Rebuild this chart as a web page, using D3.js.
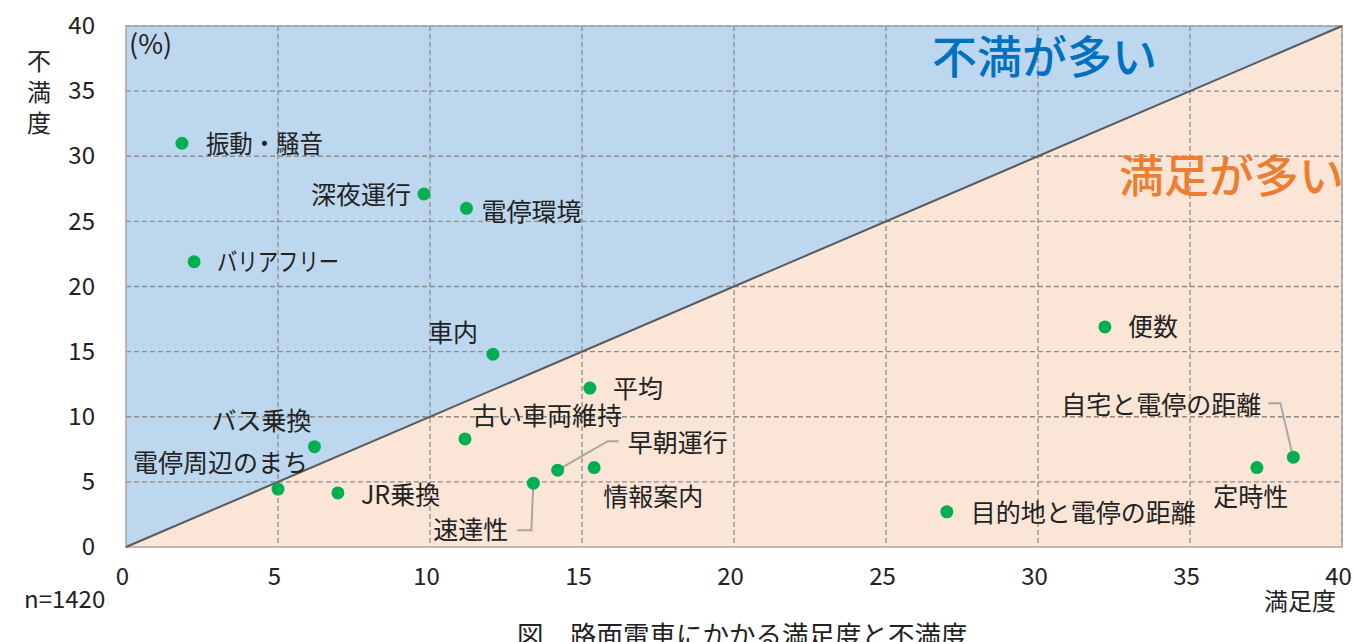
<!DOCTYPE html>
<html>
<head>
<meta charset="utf-8">
<script src="https://cdn.jsdelivr.net/npm/d3@7"></script>
<style>
  body { margin: 0; background: #fff; }
  text { font-family: "Noto Sans CJK JP", "Noto Sans", sans-serif; fill: #222; }
</style>
</head>
<body>
<div id="chart"></div>
<script>
// 路面電車にかかる満足度と不満度 (scatter, satisfaction vs dissatisfaction)

// ---- data ----
const items = ["振動・騒音", "深夜運行", "電停環境", "バリアフリー", "車内", "平均", "便数",
    "古い車両維持", "バス乗換", "電停周辺のまち", "JR乗換", "早朝運行", "情報案内", "速達性",
    "目的地と電停の距離", "定時性", "自宅と電停の距離"];
const satisfaction = [1.84, 9.8, 11.2, 2.24, 12.07, 15.26, 32.2,
    11.15, 6.2, 5.0, 6.97, 14.2, 15.4, 13.4,
    27.0, 37.2, 38.4];
const dissatisfaction = [31.0, 27.1, 26.0, 21.9, 14.8, 12.2, 16.9,
    8.3, 7.7, 4.45, 4.15, 5.9, 6.1, 4.9,
    2.7, 6.1, 6.9];
const xTicks = [0, 5, 10, 15, 20, 25, 30, 35, 40];
const yTicks = [0, 5, 10, 15, 20, 25, 30, 35, 40];
const yTitle = ["不", "満", "度"];
const sampleText = "n=1420";
const captionText = "図　路面電車にかかる満足度と不満度";

// ---- label layout (pixel offsets from the dot) ----
const labelLayout = {
    "振動・騒音":       {dx: 24, dy: 1, anchor: "start", len: 117},
    "深夜運行":         {dx: -13, dy: 1, anchor: "end"},
    "電停環境":         {dx: 15, dy: 4, anchor: "start"},
    "バリアフリー":     {dx: 23, dy: 0, anchor: "start", len: 122},
    "車内":             {dx: -15, dy: -21, anchor: "end"},
    "平均":             {dx: 23, dy: 1, anchor: "start"},
    "便数":             {dx: 23, dy: 0, anchor: "start"},
    "古い車両維持":     {dx: 7, dy: -23, anchor: "start"},
    "バス乗換":         {dx: -3, dy: -25, anchor: "end"},
    "電停周辺のまち":   {dx: 30, dy: -26, anchor: "end"},
    "JR乗換":           {dx: 23, dy: 2, anchor: "start"},
    "早朝運行":         {dx: 70, dy: -27, anchor: "start"},
    "情報案内":         {dx: 9, dy: 30, anchor: "start"},
    "速達性":           {dx: -25, dy: 47, anchor: "end"},
    "目的地と電停の距離": {dx: 24, dy: 1, anchor: "start"},
    "定時性":           {dx: -6, dy: 30, anchor: "middle"},
    "自宅と電停の距離": {dx: -32, dy: -52, anchor: "end"}
};
// leader lines (offsets from the dot)
const leaders = {
    "早朝運行": [[0, 0], [50, -29], [61, -29]],
    "速達性": [[0, 0], [-2, 47], [-16, 47]],
    "自宅と電停の距離": [[-1, -3], [-13, -54], [-25, -54]]
};

const margin = {top: 26, right: 13, bottom: 95, left: 126},
    width = 1355 - margin.left - margin.right,
    height = 642 - margin.top - margin.bottom;

const svgRoot = d3.select("#chart")
    .append("svg")
    .attr("width", 1355)
    .attr("height", 642);

const svg = svgRoot.append("g")
    .attr("transform", `translate(${margin.left},${margin.top})`);

const x = d3.scaleLinear().domain([0, 40]).range([0, width]);
const y = d3.scaleLinear().domain([0, 40]).range([height, 0]);

// background triangles
svg.append("path")
    .attr("d", `M${x(0)},${y(0)}L${x(0)},${y(40)}L${x(40)},${y(40)}Z`)
    .attr("fill", "#bdd7ee");
svg.append("path")
    .attr("d", `M${x(0)},${y(0)}L${x(40)},${y(40)}L${x(40)},${y(0)}Z`)
    .attr("fill", "#fbe5d6");

// grid
svg.append("g")
    .selectAll("line")
    .data(xTicks.slice(1))
    .join("line")
    .attr("x1", d => x(d)).attr("x2", d => x(d))
    .attr("y1", 0).attr("y2", height)
    .attr("stroke", "#8c8c8c")
    .attr("stroke-width", 1.3)
    .attr("stroke-dasharray", "5,3");
svg.append("g")
    .selectAll("line")
    .data(yTicks.slice(1))
    .join("line")
    .attr("x1", 0).attr("x2", width)
    .attr("y1", d => y(d)).attr("y2", d => y(d))
    .attr("stroke", "#8c8c8c")
    .attr("stroke-width", 1.3)
    .attr("stroke-dasharray", "5,3");

// frame
svg.append("rect")
    .attr("x", 0).attr("y", 0)
    .attr("width", width).attr("height", height)
    .attr("fill", "none")
    .attr("stroke", "#a6a6a6")
    .attr("stroke-width", 1.5);

// diagonal
svg.append("line")
    .attr("x1", x(0)).attr("y1", y(0))
    .attr("x2", x(40)).attr("y2", y(40))
    .attr("stroke", "#595959")
    .attr("stroke-width", 2);

// axes (text only)
const xAxis = svg.append("g")
    .attr("transform", `translate(0,${height})`)
    .call(d3.axisBottom(x).tickValues(xTicks).tickSize(0).tickPadding(0));
xAxis.select(".domain").remove();
xAxis.selectAll("text")
    .attr("dx", -4)
    .attr("y", 21)
    .style("font-size", "24px")
    .style("font-family", "'Noto Sans CJK JP', sans-serif")
    .attr("fill", "#222");

const yAxis = svg.append("g")
    .call(d3.axisLeft(y).tickValues(yTicks).tickSize(0).tickPadding(0));
yAxis.select(".domain").remove();
yAxis.selectAll("text")
    .attr("x", -31)
    .style("font-size", "24px")
    .style("font-family", "'Noto Sans CJK JP', sans-serif")
    .attr("fill", "#222");

// axis titles
svgRoot.append("g")
    .selectAll("text")
    .data(yTitle)
    .join("text")
    .attr("x", 39)
    .attr("y", (d, i) => 62 + i * 31)
    .attr("dy", "0.35em")
    .attr("text-anchor", "middle")
    .style("font-size", "24px")
    .text(d => d);

svgRoot.append("text")
    .attr("x", 1336)
    .attr("y", 602)
    .attr("dy", "0.35em")
    .attr("text-anchor", "end")
    .style("font-size", "24px")
    .text("満足度");

svgRoot.append("text")
    .attr("x", 24)
    .attr("y", 600)
    .attr("dy", "0.35em")
    .style("font-size", "24px")
    .text(sampleText);

svg.append("text")
    .attr("x", 3)
    .attr("y", 19)
    .attr("dy", "0.35em")
    .style("font-size", "27px")
    .text("(%)");

// region labels
svg.append("text")
    .attr("x", 806)
    .attr("y", 32)
    .attr("dy", "0.35em")
    .style("font-size", "45px")
    .style("font-weight", "500")
    .style("fill", "#0070c0")
    .text("不満が多い");
svg.append("text")
    .attr("x", width + 2)
    .attr("y", 151)
    .attr("dy", "0.35em")
    .attr("text-anchor", "end")
    .style("font-size", "45px")
    .style("font-weight", "500")
    .style("fill", "#ed7d31")
    .text("満足が多い");

// points
const pts = items.map((name, i) => ({name: name, sx: satisfaction[i], dy: dissatisfaction[i]}));

// leader lines
svg.append("g")
    .selectAll("path")
    .data(pts.filter(d => leaders[d.name]))
    .join("path")
    .attr("d", d => d3.line()(leaders[d.name].map(p => [x(d.sx) + p[0], y(d.dy) + p[1]])))
    .attr("fill", "none")
    .attr("stroke", "#a6a6a6")
    .attr("stroke-width", 2);

svg.append("g")
    .selectAll("circle")
    .data(pts)
    .join("circle")
    .attr("cx", d => x(d.sx))
    .attr("cy", d => y(d.dy))
    .attr("r", 6.5)
    .attr("fill", "#00b050");

const labels = svg.append("g")
    .selectAll("text")
    .data(pts)
    .join("text")
    .attr("x", d => x(d.sx) + labelLayout[d.name].dx)
    .attr("y", d => y(d.dy) + labelLayout[d.name].dy)
    .attr("dy", "0.35em")
    .attr("text-anchor", d => labelLayout[d.name].anchor)
    .style("font-size", "25px")
    .text(d => d.name);
labels.filter(d => labelLayout[d.name].len)
    .attr("textLength", d => labelLayout[d.name].len)
    .attr("lengthAdjust", "spacingAndGlyphs");

// caption
svgRoot.append("text")
    .attr("x", 517)
    .attr("y", 636)
    .attr("dy", "0.35em")
    .style("font-size", "26.5px")
    .text(captionText);
</script>
</body>
</html>
